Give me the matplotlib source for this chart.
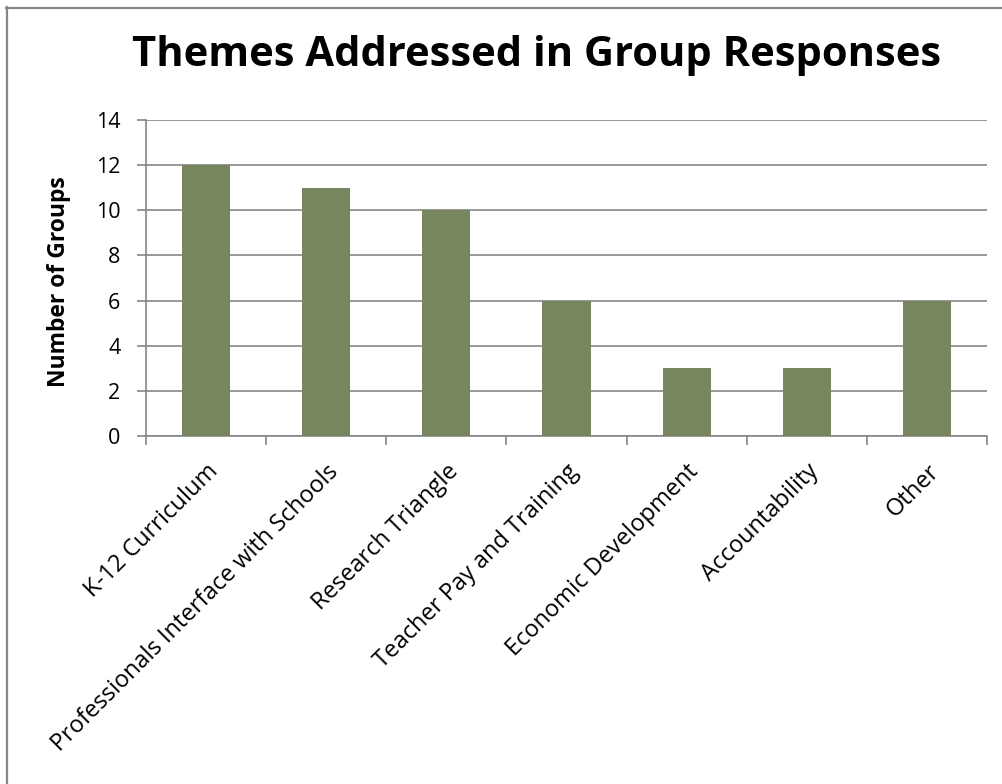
import matplotlib
matplotlib.use("Agg")
import matplotlib.pyplot as plt
from matplotlib.lines import Line2D

categories = ["K-12 Curriculum", "Professionals Interface with Schools", "Research Triangle",
              "Teacher Pay and Training", "Economic Development", "Accountability", "Other"]
values = [12, 11, 10, 6, 3, 3, 6]
yticks = [0, 2, 4, 6, 8, 10, 12, 14]

plt.rcParams['font.family'] = ['Open Sans', 'DejaVu Sans']

W, H = 1003, 784
fig = plt.figure(figsize=(W / 100, H / 100), dpi=100)
ax = fig.add_axes([146 / W, 1 - 436 / H, (987 - 146) / W, (436 - 120) / H])

gray = "#868686"
x = list(range(len(categories)))
ax.bar(x, values, width=0.4, color="#77865F", zorder=3)
ax.set_xlim(-0.5, len(categories) - 0.5)
ax.set_ylim(0, 14)
ax.set_yticks(yticks)
ax.set_yticklabels([str(v) for v in yticks], fontsize=15.5)
ax.grid(axis="y", color=gray, linewidth=1.2, zorder=0)
ax.set_axisbelow(True)

ax.set_xticks([i - 0.5 for i in range(len(categories) + 1)])
ax.set_xticklabels([])
ax.set_xticks(x, minor=True)
ax.set_xticklabels(categories, minor=True, rotation=45, ha="right", va="top",
                   rotation_mode="anchor", fontsize=17)
ax.tick_params(axis="x", which="minor", length=0, pad=17)
ax.tick_params(axis="x", which="major", length=6.5, color=gray, width=1.2)
ax.tick_params(axis="y", length=6.5, color=gray, width=1.2, pad=12)

for s in ["top", "right"]:
    ax.spines[s].set_visible(False)
for s in ["left", "bottom"]:
    ax.spines[s].set_color(gray)
    ax.spines[s].set_linewidth(1.2)

ax.set_ylabel("Number of Groups", fontsize=16.5, fontweight="bold")
ax.yaxis.set_label_coords((71 - 146) / (987 - 146), 0.49)

fig.text(537 / W, 1 - 55 / H, "Themes Addressed in Group Responses", fontsize=30,
         fontweight="bold", ha="center", va="center")

# chart border
fig.add_artist(Line2D([6 / W, 1], [1 - 7.5 / H, 1 - 7.5 / H], color="#878787", linewidth=1.6,
                      transform=fig.transFigure))
fig.add_artist(Line2D([7 / W, 7 / W], [0, 1 - 7 / H], color="#878787", linewidth=1.6,
                      transform=fig.transFigure))

fig.savefig("out.png", dpi=100)
